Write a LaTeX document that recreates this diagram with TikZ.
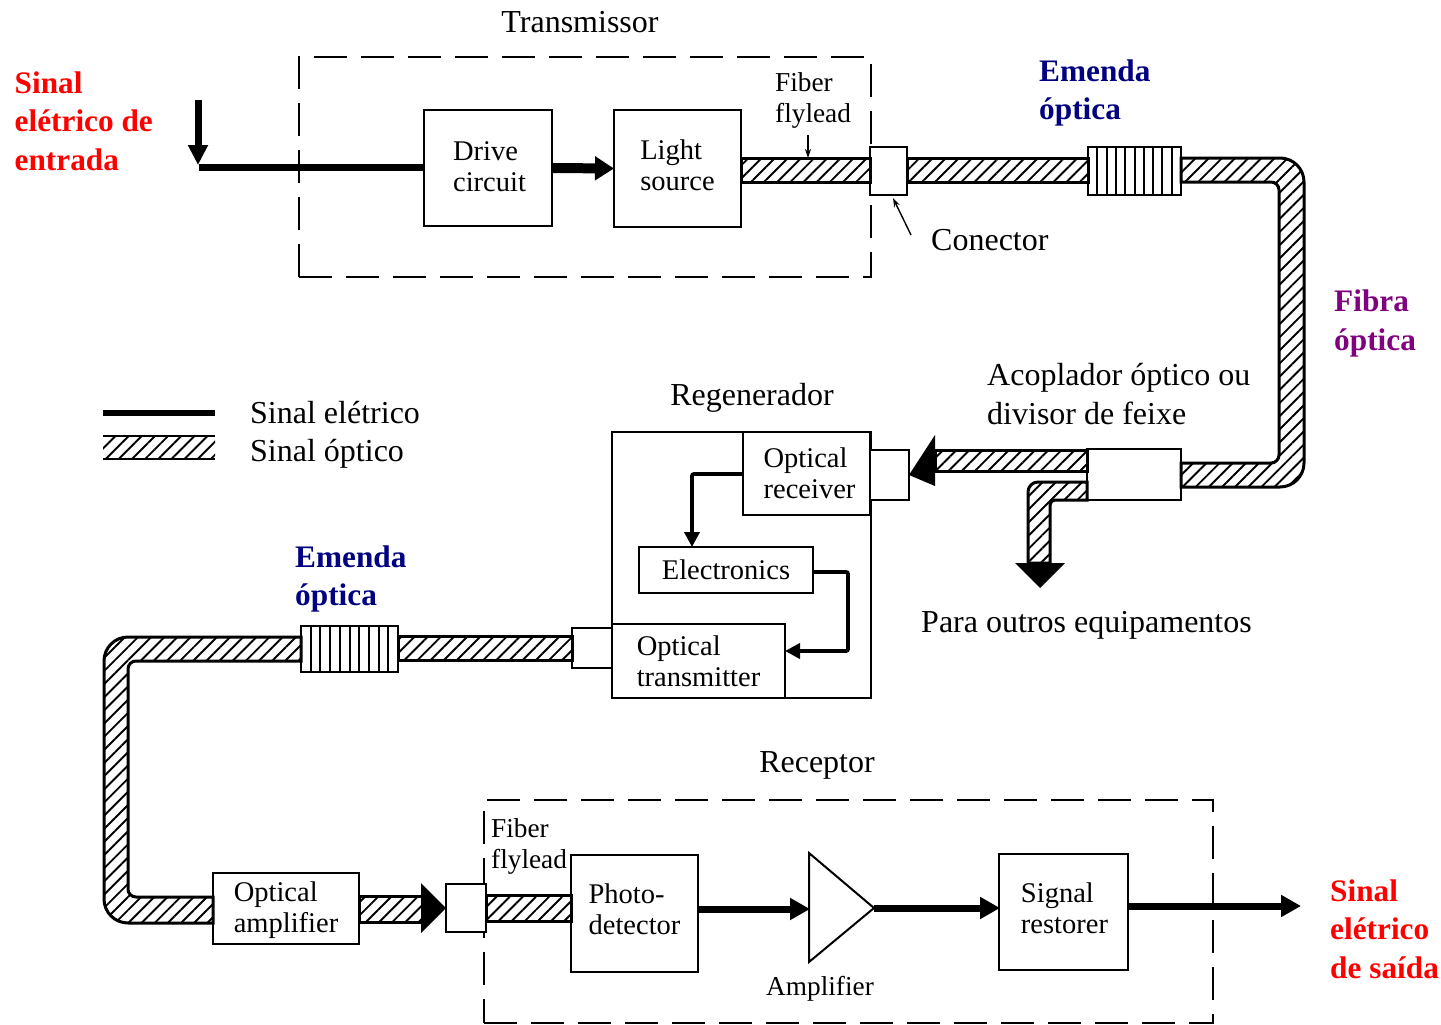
\documentclass[tikz,border=0pt]{standalone}
\usepackage{fontspec}
\setmainfont{Liberation Serif}
\usetikzlibrary{arrows.meta,calc,patterns.meta}
\definecolor{SinalClr}{RGB}{255,0,0}
\definecolor{EmendaClr}{RGB}{0,0,128}
\definecolor{FibraClr}{RGB}{128,0,128}
\newcommand{\BlkTxt}[3]{\hspace*{#1}\raisebox{#2}[\height][\depth]{\begin{tabular}{@{}l@{}}#3\end{tabular}}}

\tikzset{
  hatch/.style={pattern={Lines[angle=45,distance=9.3pt,line width=1.9pt]}},
  fiber/.style={draw,line width=3pt,hatch},
  blk/.style={draw,fill=white,line width=2.5pt,inner sep=0pt,outer sep=0pt,align=left,
    font=\fontsize{28.5}{31}\selectfont},
  dashbox/.style={draw,line width=2.2pt,inner sep=0pt,outer sep=0pt,dash pattern=on 33pt off 14pt},
  lbl/.style={inner sep=0pt,align=left,font=\fontsize{32}{38.5}\selectfont},
  small/.style={inner sep=0pt,align=left,font=\fontsize{27.3}{31}\selectfont},
  tag/.style={inner sep=0pt,align=left,font=\fontsize{31.3}{38.5}\selectfont\bfseries},
  sig/.style={line width=7pt,-{Triangle[length=20pt,width=21pt]},shorten >=-1pt},
  thin arrow/.style={line width=1.4pt,-{Stealth[length=9pt,width=6pt]}},
  ctl/.style={line width=3.8pt,-{Triangle[length=15pt,width=15pt]}}
}

\begin{document}
\begin{tikzpicture}[x=1pt,y=-1pt]
\useasboundingbox (0,0) rectangle (1441,1025);

% Dashed boxes.
\node[dashbox,minimum width=572pt,minimum height=220pt] (txdash) at (585,167) {};
\node[dashbox,minimum width=729pt,minimum height=223pt] (rxdash) at (848.5,911.5) {};

% Blocks.
\node[blk,minimum width=128pt,minimum height=116pt] (drive) at (488,168) {\BlkTxt{3pt}{-2pt}{Drive\\circuit}};
\node[blk,minimum width=127pt,minimum height=117pt] (light) at (677.5,168.5) {\BlkTxt{0pt}{0pt}{Light\\source}};
\node[blk,minimum width=37pt,minimum height=48pt] (conA) at (888.5,171) {};
\node[blk,minimum width=93pt,minimum height=48pt] (spliceA) at (1134.5,171) {};
\node[blk,minimum width=94pt,minimum height=51pt] (coupler) at (1134,474.5) {};
\node[blk,minimum width=259pt,minimum height=266pt] (regen) at (741.5,565) {};
\node[blk,minimum width=127pt,minimum height=83pt] (orx) at (806.5,473.5) {\BlkTxt{6pt}{-3pt}{Optical\\receiver}};
\node[blk,minimum width=39pt,minimum height=50pt] (conB) at (889.5,475) {};
\node[blk,minimum width=174pt,minimum height=46pt] (elec) at (726,570) {Electronics};
\node[blk,minimum width=173pt,minimum height=74pt] (otx) at (698.5,661) {Optical\\transmitter};
\node[blk,minimum width=40pt,minimum height=40pt] (conC) at (592,648) {};
\node[blk,minimum width=97pt,minimum height=46pt] (spliceB) at (349.5,649) {};
\node[blk,minimum width=146pt,minimum height=71pt] (oamp) at (286,908.5) {\BlkTxt{0pt}{-2pt}{Optical\\amplifier}};
\node[blk,minimum width=40pt,minimum height=48pt] (conD) at (466,908) {};
\node[blk,minimum width=127pt,minimum height=117pt] (photo) at (634.5,913.5) {\BlkTxt{0pt}{0.5pt}{Photo-\\detector}};
\node[blk,minimum width=129pt,minimum height=116pt] (restorer) at (1063.5,912) {\BlkTxt{2pt}{0.5pt}{Signal\\restorer}};

% Splice marks.
\foreach \s in {spliceA,spliceB}{
  \foreach \i in {1,...,9}{
    \draw[line width=2pt] ($(\s.north west)!\i/10!(\s.north east)$) -- ($(\s.south west)!\i/10!(\s.south east)$);
  }
}

% Optical fiber.
\draw[fiber] (light.east |- 0,158) rectangle (conA.west |- 0,182);
\draw[fiber] (conA.east |- 0,158) rectangle (spliceA.west |- 0,182);
\draw[fiber] (spliceA.east |- 0,158) [rounded corners=24pt] -- (1304,158) -- (1304,487) [sharp corners] -- (coupler.east |- 0,487)
  -- (coupler.east |- 0,463) [rounded corners=8pt] -- (1279,463) -- (1279,182)
  [sharp corners] -- (spliceA.east |- 0,182) -- cycle;
\draw[fiber] (coupler.west |- 0,450) rectangle (935,471);
\draw[fiber] (coupler.west |- 0,482) [rounded corners=10pt] -- (1028,482) [sharp corners] -- (1028,563) -- (1050,563)
  [rounded corners=5pt] -- (1050,500) [sharp corners] -- (coupler.west |- 0,500) -- cycle;
\draw[fiber] (conC.west |- 0,636) rectangle (spliceB.east |- 0,660);
\draw[fiber] (spliceB.west |- 0,637) [rounded corners=24pt] -- (104,637) -- (104,923) [sharp corners] -- (oamp.west |- 0,923)
  -- (oamp.west |- 0,897) [rounded corners=8pt] -- (128,897) -- (128,661)
  [sharp corners] -- (spliceB.west |- 0,661) -- cycle;
\draw[fiber] (oamp.east |- 0,896) rectangle (422,922);
\draw[fiber] (conD.east |- 0,895) rectangle (photo.west |- 0,921);

% Big arrow heads.
\fill (conB.east) -- (935,435) -- (935,486) -- cycle;
\fill (1040,588) -- (1015,563) -- (1065,563) -- cycle;
\fill (conD.west) -- (421,883) -- (421,933) -- cycle;

% Amplifier.
\coordinate (ampA) at (809,853);
\coordinate (ampB) at (809,962);
\coordinate (ampC) at (874,908);
\draw[line width=2pt,line join=miter] (ampA) -- (ampC) -- (ampB) -- cycle;

% Electrical signal.
\coordinate (sigin) at (199,167);
\coordinate (sigtop) at (198,100);
\coordinate (sigdown) at (198,165);
\coordinate (sigout) at (1300,906);
\draw[line width=7pt] (sigin) -- (drive.west |- sigin);
\draw[line width=7pt,-{Triangle[length=20pt,width=19pt]}] (sigtop) -- (sigdown);
\draw[line width=10pt,-{Triangle[length=19pt,width=23pt]}] (drive.east) -- (light.west);
\draw[sig] (photo.east |- 0,909) -- (ampA |- 0,909);
\draw[sig] (ampC) -- (restorer.west |- ampC);
\draw[sig] (restorer.east |- sigout) -- (sigout);
\draw[ctl,rounded corners=2pt] (orx.west |- 0,474) -- (692,474) -- (692,547);
\draw[ctl,rounded corners=2pt] (elec.east |- 0,572) -- (848,572) -- (848,651) -- (otx.east |- 0,651);

% Pointers.
\coordinate (flyA) at (808,135);
\coordinate (conptr) at (911,235);
\draw[thin arrow] (flyA) -- (808,158);
\draw[thin arrow] (conptr) -- (893,198);

% Legend.
\coordinate (lgdA) at (103,413);
\coordinate (lgdB) at (215,413);
\draw[line width=6pt] (lgdA) -- (lgdB);
\fill[hatch] (103,436) rectangle (215,459);
\draw[line width=2.5pt] (103,436) -- (215,436) (103,459) -- (215,459);

% Texts.
\node[lbl] (ttx) at (580,22.5) {Transmissor};
\node[lbl] (trg) at (752,397.5) {Regenerador};
\node[lbl] (trx) at (817,765) {Receptor};
\node[small] (tamp) at (820,989) {Amplifier};
\node[small,anchor=west] (tflyA) at (775,100.5) {Fiber\\flylead};
\node[small,anchor=west] (tflyB) at (491,846.5) {Fiber\\flylead};
\node[lbl,anchor=west] (tcon) at (931,240) {Conector};
\node[lbl,anchor=west] (tcpl) at (987,394) {Acoplador óptico ou\\divisor de feixe};
\node[lbl,anchor=west] (tout) at (921,625) {Para outros equipamentos};
\node[lbl,anchor=west] (tlgA) at (250,413) {Sinal elétrico};
\node[lbl,anchor=west] (tlgB) at (250,454) {Sinal óptico};
\node[tag,anchor=west,text=SinalClr] (tin) at (14.5,121) {Sinal\\elétrico de\\entrada};
\node[tag,anchor=west,text=SinalClr] (tsai) at (1330,929) {Sinal\\elétrico\\de saída};
\node[tag,anchor=west,text=EmendaClr] (temA) at (1039,93) {Emenda\\óptica};
\node[tag,anchor=west,text=EmendaClr] (temB) at (295,579) {Emenda\\óptica};
\node[tag,anchor=west,text=FibraClr] (tfib) at (1334,323.5) {Fibra\\óptica};

\end{tikzpicture}
\end{document}
